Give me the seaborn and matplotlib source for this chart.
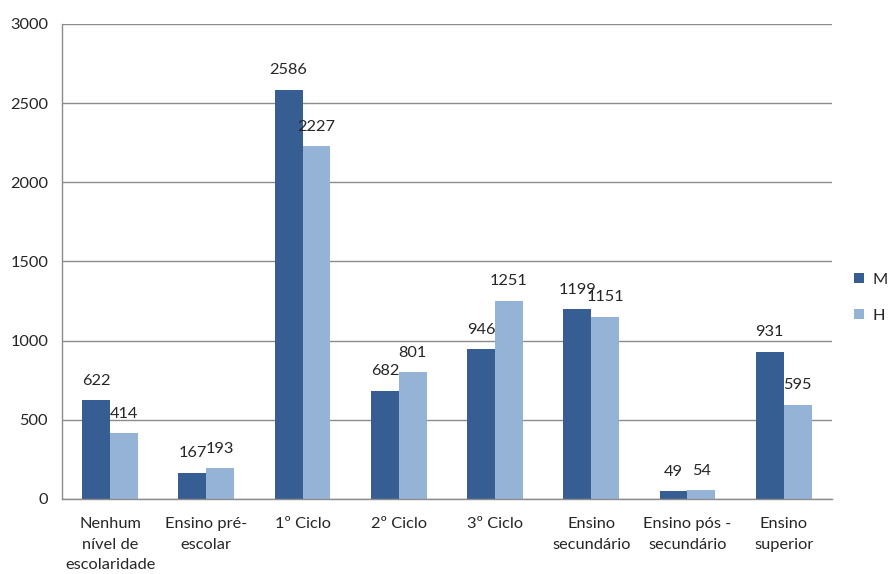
import matplotlib
matplotlib.use("Agg")
import matplotlib.pyplot as plt
from matplotlib.patches import Patch
from matplotlib.ticker import FixedLocator
import seaborn as sns
import pandas as pd
import numpy as np

categories = [
    "Nenhum\nnível de\nescolaridade",
    "Ensino pré-\nescolar",
    "1º Ciclo",
    "2º Ciclo",
    "3º Ciclo",
    "Ensino\nsecundário",
    "Ensino pós -\nsecundário",
    "Ensino\nsuperior",
]
values_m = [622, 167, 2586, 682, 946, 1199, 49, 931]
values_h = [414, 193, 2227, 801, 1251, 1151, 54, 595]
series = ["M", "H"]
colors = ["#375E92", "#95B3D7"]
y_ticks = [0, 500, 1000, 1500, 2000, 2500, 3000]

df = pd.DataFrame({
    "categoria": categories * 2,
    "valor": values_m + values_h,
    "sexo": ["M"] * len(categories) + ["H"] * len(categories),
})

sns.set_style("white")
plt.rcParams["font.family"] = ["Lato", "DejaVu Sans"]
fs = 11.8
plt.rcParams["font.size"] = fs
text_color = "#262626"
grid_color = "#8C8C8C"

fig = plt.figure(figsize=(8.91, 5.74), dpi=100)
ax = fig.add_axes([0.0696, 0.1307, 0.864, 0.8275])

sns.barplot(data=df, x="categoria", y="valor", hue="sexo", hue_order=series,
            palette=colors, width=0.58, gap=0, saturation=1, ax=ax,
            legend=False, edgecolor="none", linewidth=0)

for cont in ax.containers:
    ax.bar_label(cont, labels=[f"{int(v.get_height())}" for v in cont],
                 padding=9, fontsize=fs, color=text_color)

ax.set_xlim(-0.5, len(categories) - 0.5)
ax.set_ylim(0, 3000)
ax.set_yticks(y_ticks)
ax.set_yticklabels([str(t) for t in y_ticks], color=text_color)
ax.yaxis.grid(True, color=grid_color, linewidth=1)
ax.set_axisbelow(True)
ax.set_xlabel("")
ax.set_ylabel("")

ax.tick_params(axis="x", which="major", length=0, pad=13, colors=text_color, labelsize=fs)
ax.xaxis.set_minor_locator(FixedLocator(np.arange(-0.5, len(categories) + 0.5, 1)))
ax.tick_params(axis="x", which="minor", length=5, width=1, color=grid_color, direction="out")
ax.tick_params(axis="y", length=5, width=1, color=grid_color, direction="out", pad=5, labelsize=fs)
for lbl in ax.get_xticklabels():
    lbl.set_linespacing(1.6)
    lbl.set_color(text_color)

for side in ["top", "right"]:
    ax.spines[side].set_visible(False)
for side in ["left", "bottom"]:
    ax.spines[side].set_color(grid_color)
    ax.spines[side].set_linewidth(1)

handles = [Patch(facecolor=c, edgecolor="none", label=s) for c, s in zip(colors, series)]
fig.legend(handles=handles, loc="center left", bbox_to_anchor=(0.959, 0.481),
           frameon=False, borderpad=0, borderaxespad=0,
           handlelength=0.6, handleheight=0.6, handletextpad=0.5,
           labelspacing=1.35, fontsize=fs, labelcolor=text_color)

fig.savefig("out.png", dpi=100)
